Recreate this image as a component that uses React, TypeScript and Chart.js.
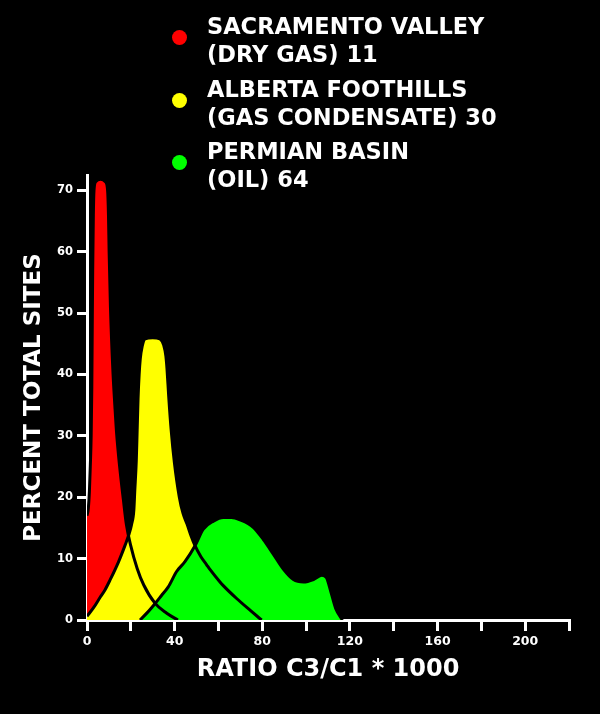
import React, { useEffect, useRef } from 'react';
import { Chart, registerables } from 'chart.js';

Chart.register(...registerables);

const FONT = '"DejaVu Sans", "Liberation Sans", Arial, sans-serif';

// Sacramento Valley (dry gas), 11 sites
const sacX = [0, 0.6, 1.1, 1.5, 1.9, 2.2, 2.4, 2.6, 2.9, 3.2, 4.0, 6.2, 8.4, 9.4, 9.8, 10.1, 10.7, 11.9, 12.7, 13.5, 14.9, 16.6, 18.0, 19.9, 22.9, 25.9, 31.1, 36.4, 41.5];
const sacY = [17, 18.2, 21, 25, 30, 38, 48, 57, 66, 70, 71.4, 71.8, 71.4, 70, 66, 60, 51, 40, 35, 30.5, 25, 19.6, 15.5, 12.2, 8.4, 5.7, 2.7, 1.1, 0];

// Alberta Foothills (gas condensate), 30 sites
const albX = [0, 3, 6, 8.2, 10.5, 14.3, 17.4, 19, 20.3, 21.4, 21.8, 22.5, 22.9, 23.3, 23.8, 24.3, 25.2, 26.5, 30, 33.3, 35.0, 36.0, 36.5, 37.3, 38.4, 39.9, 42.1, 43.8, 45.7, 47.6, 49.3, 52, 54.6, 56.2, 60.7, 62.2, 68.3, 74.4, 79.7];
const albY = [0.6, 2, 3.7, 4.9, 6.5, 9.4, 12.2, 13.8, 15.5, 18, 21, 26, 31, 36, 40, 42.5, 44.6, 45.8, 46, 45.8, 44.8, 43, 41, 36.4, 31, 25.6, 20.1, 17.4, 15.6, 13.6, 12.1, 10.3, 9, 8.2, 6.2, 5.6, 3.5, 1.6, 0];

// Permian Basin (oil), 64 sites
const perX = [24.2, 27.5, 31.1, 34, 37.1, 40.9, 44.7, 49.3, 53.1, 57.7, 62.2, 66, 69.9, 75.9, 80.5, 85.1, 89.6, 94.2, 98.8, 103.4, 107.2, 109.3, 111.3, 113.5, 116.6];
const perY = [0, 1.2, 2.7, 4, 5.4, 7.9, 9.5, 12.1, 14.8, 16.1, 16.7, 16.7, 16.3, 15.1, 13.1, 10.7, 8.3, 6.6, 6.2, 6.6, 7.3, 6.9, 4.6, 1.9, 0];

const legendLines = [
  ['SACRAMENTO VALLEY', '(DRY GAS) 11'],
  ['ALBERTA FOOTHILLS', '(GAS CONDENSATE) 30'],
  ['PERMIAN BASIN', '(OIL) 64'],
];
const legendColors = ['#ff0000', '#ffff00', '#00ff00'];

const xTitle = 'RATIO C3/C1 * 1000';
const yTitle = 'PERCENT TOTAL SITES';

const toPts = (xs: number[], ys: number[]) => xs.map((x, i) => ({ x, y: ys[i] }));

export default function App() {
  const ref = useRef<HTMLCanvasElement>(null);

  useEffect(() => {
    document.body.style.margin = '0';
    document.body.style.background = '#000';
    const common = {
      borderColor: '#000',
      borderWidth: 3,
      pointRadius: 0,
      fill: 'origin',
      cubicInterpolationMode: 'monotone',
    };
    const chart = new Chart(ref.current as HTMLCanvasElement, {
      type: 'line',
      data: {
        datasets: [
          { ...common, label: 'PERMIAN BASIN (OIL) 64', data: toPts(perX, perY), backgroundColor: legendColors[2] },
          { ...common, label: 'ALBERTA FOOTHILLS (GAS CONDENSATE) 30', data: toPts(albX, albY), backgroundColor: legendColors[1] },
          { ...common, label: 'SACRAMENTO VALLEY (DRY GAS) 11', data: toPts(sacX, sacY), backgroundColor: legendColors[0] },
        ] as any,
      },
      options: {
        responsive: false,
        animation: false,
        layout: { padding: { top: 175, right: 31, left: 0, bottom: 0 } },
        plugins: {
          legend: { display: false },
          tooltip: { enabled: false },
          filler: { drawTime: 'beforeDatasetsDraw' },
        } as any,
        scales: {
          x: {
            type: 'linear',
            min: 0,
            max: 220,
            z: 1,
            afterFit: (s: any) => { s.height = 94; },
            border: { color: '#fff', width: 3 },
            grid: { display: true, drawOnChartArea: false, drawTicks: true, tickLength: 11, color: '#fff', lineWidth: 3 },
            ticks: {
              stepSize: 20,
              autoSkip: false,
              maxRotation: 0,
              color: '#fff',
              padding: 3,
              font: { family: FONT, weight: 'bold', size: 12.5 },
              callback: (v: any) => (Number(v) % 40 === 0 ? String(v) : ''),
            },
            title: {
              display: true,
              text: xTitle,
              color: '#fff',
              font: { family: FONT, weight: 'bold', size: 24 },
              padding: { top: 0, bottom: 30 },
            },
          },
          y: {
            min: 0,
            max: 72.5,
            z: 1,
            afterFit: (s: any) => { s.width = 87; },
            border: { color: '#fff', width: 3 },
            grid: { display: true, drawOnChartArea: false, drawTicks: true, tickLength: 10, color: '#fff', lineWidth: 3 },
            ticks: {
              stepSize: 10,
              includeBounds: false,
              color: '#fff',
              padding: 4,
              font: { family: FONT, weight: 'bold', size: 11.5 },
            },
            title: {
              display: true,
              text: yTitle,
              color: '#fff',
              font: { family: FONT, weight: 'bold', size: 23 },
              padding: { top: 20, bottom: 0 },
            },
          },
        } as any,
      },
    });
    return () => chart.destroy();
  }, []);

  const tops = [12.4, 75.4, 137.4];

  return (
    <div style={{ position: 'relative', width: 600, height: 714, background: '#000', overflow: 'hidden' }}>
      <canvas ref={ref} width={600} height={714} style={{ display: 'block' }} />
      {legendLines.map((lines, i) => (
        <React.Fragment key={i}>
          <div
            style={{
              position: 'absolute',
              left: 172,
              top: tops[i] + 25 - 7.5,
              width: 15,
              height: 15,
              borderRadius: '50%',
              background: legendColors[i],
            }}
          />
          <div
            style={{
              position: 'absolute',
              left: 207,
              top: tops[i],
              color: '#fff',
              fontFamily: FONT,
              fontWeight: 'bold',
              fontSize: 22.5,
              lineHeight: '28px',
              whiteSpace: 'pre',
            }}
          >
            {lines.join('\n')}
          </div>
        </React.Fragment>
      ))}
    </div>
  );
}
